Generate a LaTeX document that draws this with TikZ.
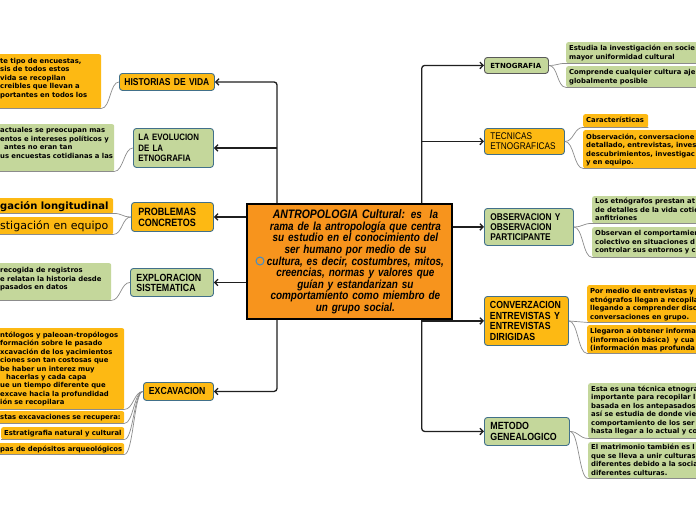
\documentclass[tikz,border=0pt]{standalone}
\usepackage{fontspec}
\setmainfont{Liberation Sans}
\newfontfamily\lab[FakeStretch=0.85]{Liberation Sans}
\newfontfamily\dv{DejaVu Sans}
\usetikzlibrary{arrows.meta}
\newcommand\fsz[2]{\fontsize{#1}{#2}\selectfont}
\definecolor{orn}{HTML}{FDB913}
\definecolor{grn}{HTML}{C4D79B}
\definecolor{ctr}{HTML}{F7941D}
\definecolor{pbd}{HTML}{41708A}
\definecolor{lnk}{HTML}{8C8C8C}
\definecolor{cblue}{HTML}{3D8ECD}
\begin{document}
\begin{tikzpicture}[x=1pt,y=-1pt,
 pbox/.style={draw=pbd, line width=0.9pt, rounded corners=3pt, anchor=north west, inner ysep=0pt, align=left},
 cbox/.style={rounded corners=2pt, anchor=north west, inner xsep=4pt, inner ysep=0pt, align=left, font=\dv\bfseries\fsz{6.85}{8.5}},
 rbox/.style={cbox, inner xsep=3pt, text width=200pt},
 arr/.style={draw=black!88, line width=1.3pt, rounded corners=3pt, -{Straight Barb[length=3.2pt,width=6.5pt]}},
 lk/.style={draw=lnk, line width=0.7pt},
]
\useasboundingbox (0,0) rectangle (696,520);
\fill[white] (0,0) rectangle (696,520);
\clip (0,0) rectangle (696,520);

% central node
\node[draw=black, line width=1.8pt, fill=ctr, anchor=north west, minimum width=205pt, minimum height=115pt, inner sep=0pt] (c) at (246,203) {};
\node[text width=192pt, align=center, inner sep=0pt, font=\lab\bfseries\itshape\fsz{11.7}{11.6}] (ct) at ([xshift=6pt,yshift=-0.5pt]c.center)
 {{\fsz{12.3}{11.6}ANTROPOLOGIA Cultural:} es\ \ la\\rama de la antropología que centra\\su estudio en el conocimiento del\\ser humano por medio de su\\cultura, es decir, costumbres, mitos,\\creencias, normas y valores que\\guían y estandarizan su\\comportamiento como miembro de\\un grupo social.};
\node[circle, draw=cblue, line width=1pt, minimum size=8pt, inner sep=0pt] (ci) at (260,261) {};

% left parents
\node[pbox, fill=orn, text width=85pt, inner xsep=5pt, minimum height=17pt, font=\lab\bfseries\fsz{10}{11}] (hv) at (119,73) {HISTORIAS DE VIDA};
\node[pbox, fill=grn, text width=70pt, inner xsep=5pt, minimum height=39pt, font=\lab\bfseries\fsz{9.3}{10.5}] (ev) at (133,128) {LA EVOLUCION\\DE LA\\ETNOGRAFIA};
\node[pbox, fill=orn, text width=68pt, inner xsep=7pt, minimum height=29pt, font=\lab\bfseries\fsz{10.6}{11}] (pc) at (131,202) {PROBLEMAS\\CONCRETOS};
\node[pbox, fill=grn, text width=71pt, inner xsep=6pt, minimum height=28pt, font=\lab\bfseries\fsz{10.4}{10}] (es) at (130,268) {EXPLORACION\\SISTEMATICA};
\node[pbox, fill=orn, text width=59pt, inner xsep=5.5pt, minimum height=18pt, font=\lab\bfseries\fsz{10.2}{11}] (ex) at (143,382) {EXCAVACION};

% right parents
\node[pbox, draw=black!65, fill=grn, text width=52pt, inner xsep=6pt, minimum height=16pt, font=\dv\bfseries\fsz{7}{8}] (et) at (484,57) {ETNOGRAFIA};
\node[pbox, fill=orn, text width=68pt, inner xsep=6pt, minimum height=26pt, font=\lab\fsz{9.7}{10}] (te) at (484,128) {TECNICAS\\ETNOGRAFICAS};
\node[pbox, fill=grn, text width=77pt, inner xsep=6pt, minimum height=37pt, font=\lab\bfseries\fsz{9.8}{10}] (ob) at (484,208) {OBSERVACION Y\\OBSERVACION\\PARTICIPANTE};
\node[pbox, fill=orn, text width=73pt, inner xsep=5.5pt, minimum height=49pt, font=\lab\bfseries\fsz{10.3}{10.5}] (cv) at (484,296) {CONVERZACION\\ENTREVISTAS Y\\ENTREVISTAS\\DIRIGIDAS};
\node[pbox, fill=grn, text width=73pt, inner xsep=6pt, minimum height=28pt, font=\lab\bfseries\fsz{10.4}{10.7}] (mg) at (484,417) {METODO\\GENEALOGICO};

% left children
\node[cbox, fill=orn, text width=97pt, text height=9pt, text depth=45pt] (hv1) at (-4,54) {\mbox{te tipo de encuestas,}\\\mbox{sis de todos estos}\\\mbox{vida se recopilan}\\\mbox{creibles que llevan a}\\\mbox{portantes en todos los}};
\node[cbox, fill=grn, text width=110pt, text height=8.3pt, text depth=38.7pt] (ev1) at (-4,124) {\mbox{actuales se preocupan mas}\\\mbox{entos e intereses políticos y}\\\mbox{\hspace*{4pt}antes no eran tan}\\\mbox{us encuestas cotidianas a las}};
\node[cbox, fill=orn, text width=109pt, text height=11pt, text depth=4pt, font=\dv\bfseries\fsz{10}{12}] (pc1) at (-4,198) {\mbox{gación longitudinal}};
\node[cbox, fill=orn, text width=109pt, text height=12.5pt, text depth=4.5pt, font=\dv\fsz{11}{13}] (pc2) at (-4,217) {\mbox{stigación en equipo}};
\node[cbox, fill=grn, text width=107pt, text height=9.3pt, text depth=27.7pt] (es1) at (-4,263) {\mbox{recogida de registros}\\\mbox{e relatan la historia desde}\\\mbox{pasados en datos}};
\node[cbox, fill=orn, text width=120pt, text height=9.3pt, text depth=71.7pt, font=\dv\bfseries\fsz{6.85}{8.4}] (ex1) at (-4,328) {\mbox{ntólogos y paleoan-tropólogos}\\\mbox{formación sobre le pasado}\\\mbox{xcavación de los yacimientos}\\\mbox{ciones son tan costosas que}\\\mbox{be haber un interez muy}\\\mbox{\hspace*{6pt}hacerlas y cada capa}\\\mbox{ue un tiempo diferente que}\\\mbox{excave hacia la profundidad}\\\mbox{ión se recopilara}};
\node[cbox, fill=orn, text width=120pt, text height=8.3pt, text depth=3.7pt] (ex2) at (-4,411) {\mbox{stas excavaciones se recupera:}};
\node[cbox, fill=orn, inner xsep=3pt, text width=117pt, text height=8.3pt, text depth=3.7pt] (ex3) at (1,427) {\mbox{Estratigrafia natural y cultural}};
\node[cbox, fill=orn, text width=120pt, text height=7.8pt, text depth=3.2pt] (ex4) at (-4,443) {\mbox{pas de depósitos arqueológicos}};

% right children
\node[rbox, fill=grn, text height=8.6pt, text depth=12.4pt] (et1) at (566,42) {Estudia la investigación en socie\\mayor uniformidad cultural};
\node[rbox, fill=grn, text height=8.6pt, text depth=12.4pt] (et2) at (566,66) {Comprende cualquier cultura aje\\globalmente posible};
\node[cbox, inner xsep=3pt, fill=orn, text width=59pt, text height=8.6pt, text depth=4.4pt] (te1) at (583,114) {\mbox{Características}};
\node[rbox, fill=orn, text height=9pt, text depth=29pt] (te2) at (583,130) {Observación, conversacione\\detallado, entrevistas, inves\\descubrimientos, investigac\\y en equipo.};
\node[rbox, fill=grn, text height=7.3pt, text depth=19.7pt] (ob1) at (592,196) {Los etnógrafos prestan at\\de detalles de la vida cotid\\anfitriones};
\node[rbox, fill=grn, text height=8.6pt, text depth=21.4pt] (ob2) at (592,227) {Observan el comportamien\\colectivo en situaciones d\\controlar sus entornos y c};
\node[rbox, fill=orn, text height=8.3pt, text depth=28.7pt] (cv1) at (587,285) {Por medio de entrevistas y\\etnógrafos llegan a recopila\\llegando a comprender disc\\conversaciones en grupo.};
\node[rbox, fill=orn, text height=8.3pt, text depth=19.7pt] (cv2) at (587,325) {Llegaron a obtener informa\\(información básica)\ \ y cua\\(información mas profunda};
\node[rbox, fill=grn, text height=8.3pt, text depth=46.7pt, font=\dv\bfseries\fsz{6.85}{8.4}] (mg1) at (588,383) {Esta es una técnica etnogra\\importante para recopilar l\\basada en los antepasados\\así se estudia de donde vie\\comportamiento de los ser\\hasta llegar a lo actual y co};
\node[rbox, fill=grn, text height=7.6pt, text depth=28.4pt] (mg2) at (588,442) {El matrimonio también es l\\que se lleva a unir culturas\\diferentes debido a la socia\\diferentes culturas.};

% main connectors
\coordinate (cl) at (277,0);
\coordinate (cr) at (421.7,0);
\draw[arr] (c.north -| cl) |- (hv.east);
\draw[arr] (ev.east -| cl) -- (ev.east);
\draw[arr] (c.west |- pc.east) -- (pc.east);
\draw[arr] (c.west |- es.east) -- (es.east);
\draw[arr] (c.south -| cl) |- (ex.east);
\draw[arr] (c.north -| cr) |- (et.west);
\draw[arr] (te.west -| cr) -- (te.west);
\draw[arr] (c.east |- ob.west) -- (ob.west);
\draw[arr] (cv.west -| cr) -- (cv.west);
\draw[arr] (c.south -| cr) |- (mg.west);

% child connectors (left)
\foreach \p/\k in {hv/hv1, ev/ev1, pc/pc1, pc/pc2, es/es1, ex/ex1, ex/ex2, ex/ex3, ex/ex4}{
  \draw[lk] (\p.west) .. controls +(-9,0) and +(9,0) .. (\k.south east) -- (\k.south west);
}
% child connectors (right)
\foreach \p/\k in {et/et1, et/et2, te/te1, te/te2, ob/ob1, ob/ob2, cv/cv1, cv/cv2, mg/mg1, mg/mg2}{
  \draw[lk] (\p.east) .. controls +(9,0) and +(-9,0) .. (\k.south west) -- (\k.south east);
}
\end{tikzpicture}
\end{document}
